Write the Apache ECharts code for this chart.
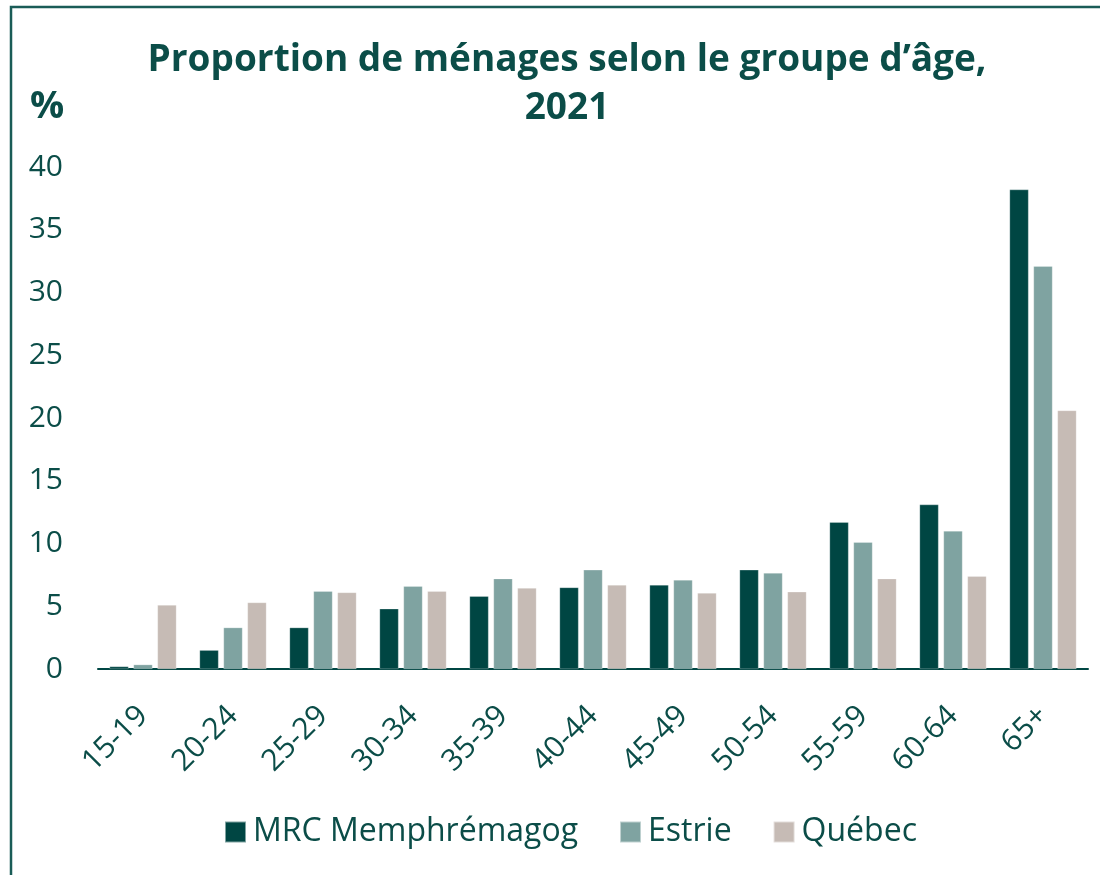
<!DOCTYPE html>
<html>
<head>
    <meta charset="utf-8">
    <title>Proportion de ménages selon le groupe d'âge, 2021</title>
    <script src="https://cdn.jsdelivr.net/npm/echarts@6/dist/echarts.min.js"></script>
    <style>
        html, body { margin: 0; padding: 0; background: #fff; }
        #chart { width: 1100px; height: 875px; }
    </style>
</head>
<body>
    <div id="chart"></div>
    <script>
        // données
        const groupesAge = ['15-19', '20-24', '25-29', '30-34', '35-39', '40-44', '45-49', '50-54', '55-59', '60-64', '65+'];
        const mrc = [0.2, 1.5, 3.3, 4.8, 5.8, 6.5, 6.7, 7.9, 11.7, 13.1, 38.2];
        const estrie = [0.35, 3.3, 6.2, 6.6, 7.2, 7.9, 7.1, 7.65, 10.1, 11.0, 32.1];
        const quebec = [5.1, 5.3, 6.1, 6.2, 6.45, 6.7, 6.05, 6.15, 7.2, 7.4, 20.6];
        const yTicks = [0, 5, 10, 15, 20, 25, 30, 35, 40];

        const textColor = '#0b4d48';
        const font = '"Open Sans", "Noto Sans", sans-serif';

        const chart = echarts.init(document.getElementById('chart'));

        function barSerie(name, data, color) {
            return {
                name: name,
                type: 'bar',
                data: data,
                barWidth: 19,
                barGap: '26%',
                itemStyle: { color: color, borderColor: 'rgba(255,255,255,0.5)', borderWidth: 0.5 }
            };
        }

        chart.setOption({
            animation: false,
            textStyle: { fontFamily: font },
            graphic: [
                {
                    type: 'polyline',
                    shape: { points: [[11, 875], [11, 7], [1100, 7]] },
                    style: { stroke: '#1a5c57', lineWidth: 2.5, fill: null }
                },
                {
                    type: 'text',
                    left: 30,
                    top: 88,
                    style: { text: '%', font: 'bold 38px ' + font, fill: textColor }
                }
            ],
            title: {
                text: 'Proportion de ménages selon le groupe d’âge,\n2021',
                left: 562,
                textAlign: 'center',
                top: 31,
                textStyle: {
                    color: textColor,
                    fontSize: 37,
                    fontWeight: 'bold',
                    fontFamily: font,
                    lineHeight: 48
                }
            },
            legend: {
                bottom: 22,
                left: 219,
                itemWidth: 21,
                itemHeight: 21,
                itemGap: 41,
                icon: 'rect',
                textStyle: { color: textColor, fontSize: 32, fontFamily: font, padding: [0, 0, 0, 2] },
                data: ['MRC Memphrémagog', 'Estrie', 'Québec']
            },
            grid: { left: 98, right: 12, top: 167, bottom: 206 },
            xAxis: {
                type: 'category',
                data: groupesAge,
                axisLine: { lineStyle: { color: '#004643', width: 2 } },
                axisTick: { show: false },
                axisLabel: {
                    color: textColor,
                    fontSize: 30,
                    rotate: 45,
                    margin: 42,
                    interval: 0
                }
            },
            yAxis: {
                type: 'value',
                min: yTicks[0],
                max: yTicks[yTicks.length - 1],
                interval: 5,
                splitLine: { show: false },
                axisLine: { show: false },
                axisTick: { show: false },
                axisLabel: { color: textColor, fontSize: 30, margin: 35 }
            },
            series: [
                barSerie('MRC Memphrémagog', mrc, '#004643'),
                barSerie('Estrie', estrie, '#7fa3a1'),
                barSerie('Québec', quebec, '#c6bbb5')
            ]
        });
    </script>
</body>
</html>
